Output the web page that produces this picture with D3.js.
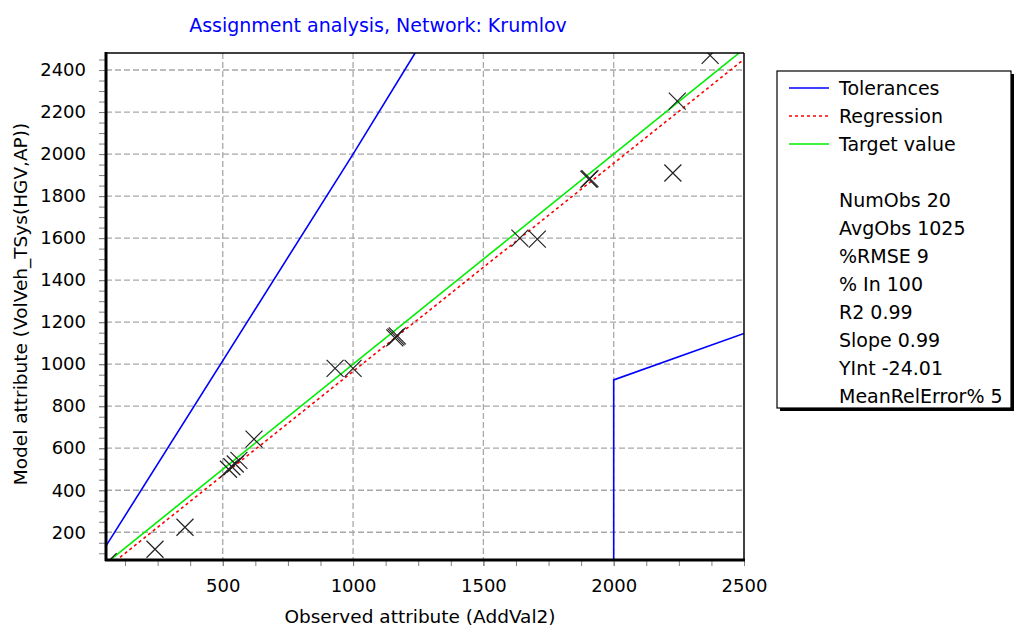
<!DOCTYPE html>
<html>
<head>
<meta charset="utf-8">
<script src="https://cdn.jsdelivr.net/npm/d3@7"></script>
<style>
  body { margin: 0; background: #fff; }
  svg text { font-family: "DejaVu Sans", sans-serif; fill: #000; }
</style>
</head>
<body>
<div id="chart"></div>
<script>
const xTicks = [500, 1000, 1500, 2000, 2500];
const yTicks = [200, 400, 600, 800, 1000, 1200, 1400, 1600, 1800, 2000, 2200, 2400];

// observed (x) vs model (y)
const observed = [60, 240, 355, 522, 535, 548, 562, 620, 931, 1000, 1160, 1165, 1170, 1640, 1707, 1905, 1909, 2227, 2244, 2370];
const modeled  = [60, 119, 224, 500, 512, 525, 542, 643, 980, 980, 1125, 1130, 1135, 1600, 1595, 1880, 1883, 1910, 2252, 2470];

const upperTolerance = [[52, 135], [1000, 2000], [1238, 2481]];
const lowerTolerance = [[2000, 0], [2000, 925], [2500, 1146]];
const targetLine = [[0, 0], [2500, 2500]];
const regSlope = 0.99, regIntercept = -24.01;

const legendItems = [
    { label: "Tolerances", color: "#0000ff", dash: null },
    { label: "Regression", color: "#ff0000", dash: "3,3" },
    { label: "Target value", color: "#00ee00", dash: null }
];
const stats = ["NumObs 20", "AvgObs 1025", "%RMSE 9", "% In 100", "R2 0.99", "Slope 0.99", "YInt -24.01", "MeanRelError% 5"];

const W = 1014, H = 626;
const plot = { left: 106, right: 744, top: 53, bottom: 560 };

const svg = d3.select("#chart").append("svg")
    .attr("width", W).attr("height", H);

const x = d3.scaleLinear().domain([52, 2500]).range([plot.left, plot.right]);
const y = d3.scaleLinear().domain([68, 2481]).range([plot.bottom, plot.top]);

svg.append("defs").append("clipPath").attr("id", "clip")
    .append("rect")
    .attr("x", plot.left).attr("y", plot.top)
    .attr("width", plot.right - plot.left).attr("height", plot.bottom - plot.top);

// grid
svg.append("g").selectAll("line").data(xTicks.filter(d => d < 2500)).enter().append("line")
    .attr("x1", d => x(d)).attr("x2", d => x(d))
    .attr("y1", plot.top).attr("y2", plot.bottom)
    .attr("stroke", "#a8a8a8").attr("stroke-width", 1.3).attr("stroke-dasharray", "6,3");
svg.append("g").selectAll("line").data(yTicks).enter().append("line")
    .attr("x1", plot.left).attr("x2", plot.right)
    .attr("y1", d => y(d)).attr("y2", d => y(d))
    .attr("stroke", "#a8a8a8").attr("stroke-width", 1.3).attr("stroke-dasharray", "6,3");

// axes
const xMinor = d3.range(125, 2501, 125);
const yMinor = d3.range(100, 2451, 50);

const xAxis = svg.append("g").attr("transform", `translate(0,${plot.bottom})`)
    .call(d3.axisBottom(x).tickValues(xMinor).tickSize(6).tickFormat(""));
const xAxisLab = svg.append("g").attr("transform", `translate(0,${plot.bottom})`)
    .call(d3.axisBottom(x).tickValues(xTicks).tickSize(6).tickPadding(13).tickFormat(d3.format("d")));
const yAxis = svg.append("g").attr("transform", `translate(${plot.left},0)`)
    .call(d3.axisLeft(y).tickValues(yMinor).tickSize(7).tickFormat(""));
const yAxisLab = svg.append("g").attr("transform", `translate(${plot.left},0)`)
    .call(d3.axisLeft(y).tickValues(yTicks).tickSize(7).tickPadding(13).tickFormat(d3.format("d")));

[xAxis, xAxisLab, yAxis, yAxisLab].forEach(g => {
    g.select(".domain").remove();
    g.selectAll(".tick line").attr("stroke", "#808080");
    g.selectAll("text").attr("font-size", "18px").attr("font-family", "DejaVu Sans").attr("fill", "#111");
});

// lines
const line = d3.line().x(d => x(d[0])).y(d => y(d[1]));
const lines = svg.append("g").attr("clip-path", "url(#clip)");

lines.append("path").datum(upperTolerance).attr("d", line)
    .attr("fill", "none").attr("stroke", "#0000ff").attr("stroke-width", 1.6);
lines.append("path").datum(lowerTolerance).attr("d", line)
    .attr("fill", "none").attr("stroke", "#0000ff").attr("stroke-width", 1.6);
lines.append("path").datum(targetLine).attr("d", line)
    .attr("fill", "none").attr("stroke", "#00ee00").attr("stroke-width", 1.6);
lines.append("path").datum(x.domain().map(v => [v, regSlope * v + regIntercept])).attr("d", line)
    .attr("fill", "none").attr("stroke", "#ff0000").attr("stroke-width", 1.6)
    .attr("stroke-dasharray", "3,3");

// markers
const pts = observed.map((o, i) => ({ obs: o, mod: modeled[i] }));
const s = 8.5;
lines.selectAll(".pt").data(pts).enter().append("path")
    .attr("class", "pt")
    .attr("d", d => {
        const cx = x(d.obs), cy = y(d.mod);
        return `M${cx - s},${cy - s}L${cx + s},${cy + s}M${cx - s},${cy + s}L${cx + s},${cy - s}`;
    })
    .attr("fill", "none").attr("stroke", "#222").attr("stroke-width", 1.2);

// frame
svg.append("line").attr("x1", plot.left).attr("x2", plot.right).attr("y1", plot.top).attr("y2", plot.top)
    .attr("stroke", "#000").attr("stroke-width", 1.5);
svg.append("line").attr("x1", plot.right).attr("x2", plot.right).attr("y1", plot.top).attr("y2", plot.bottom)
    .attr("stroke", "#000").attr("stroke-width", 1.5);
svg.append("line").attr("x1", plot.left).attr("x2", plot.left).attr("y1", plot.top - 1).attr("y2", plot.bottom + 1)
    .attr("stroke", "#000").attr("stroke-width", 3);
svg.append("line").attr("x1", plot.left - 1).attr("x2", plot.right + 1).attr("y1", plot.bottom).attr("y2", plot.bottom)
    .attr("stroke", "#000").attr("stroke-width", 3);

// titles
svg.append("text").attr("x", 378).attr("y", 32)
    .attr("text-anchor", "middle").attr("font-size", "19px")
    .style("fill", "#0000ff")
    .text("Assignment analysis, Network: Krumlov");

svg.append("text").attr("x", 420).attr("y", 623)
    .attr("text-anchor", "middle").attr("font-size", "18.5px")
    .text("Observed attribute (AddVal2)");

svg.append("text")
    .attr("transform", `translate(27,304) rotate(-90)`)
    .attr("text-anchor", "middle").attr("font-size", "18.5px")
    .text("Model attribute (VolVeh_TSys(HGV,AP))");

// legend
const lg = svg.append("g");
const box = { x: 777, y: 71, w: 234, h: 337 };
lg.append("rect").attr("x", box.x + 3).attr("y", box.y + 3).attr("width", box.w).attr("height", box.h)
    .attr("fill", "#000");
lg.append("rect").attr("x", box.x).attr("y", box.y).attr("width", box.w).attr("height", box.h)
    .attr("fill", "#fff").attr("stroke", "#000").attr("stroke-width", 1.2);

legendItems.forEach((d, i) => {
    const ly = 88 + i * 28;
    lg.append("line").attr("x1", 789).attr("x2", 829).attr("y1", ly).attr("y2", ly)
        .attr("stroke", d.color).attr("stroke-width", 1.6)
        .attr("stroke-dasharray", d.dash);
    lg.append("text").attr("x", 839).attr("y", ly + 7).attr("font-size", "19px").text(d.label);
});
stats.forEach((t, i) => {
    lg.append("text").attr("x", 839).attr("y", 207 + i * 28).attr("font-size", "19px").text(t);
});
</script>
</body>
</html>
